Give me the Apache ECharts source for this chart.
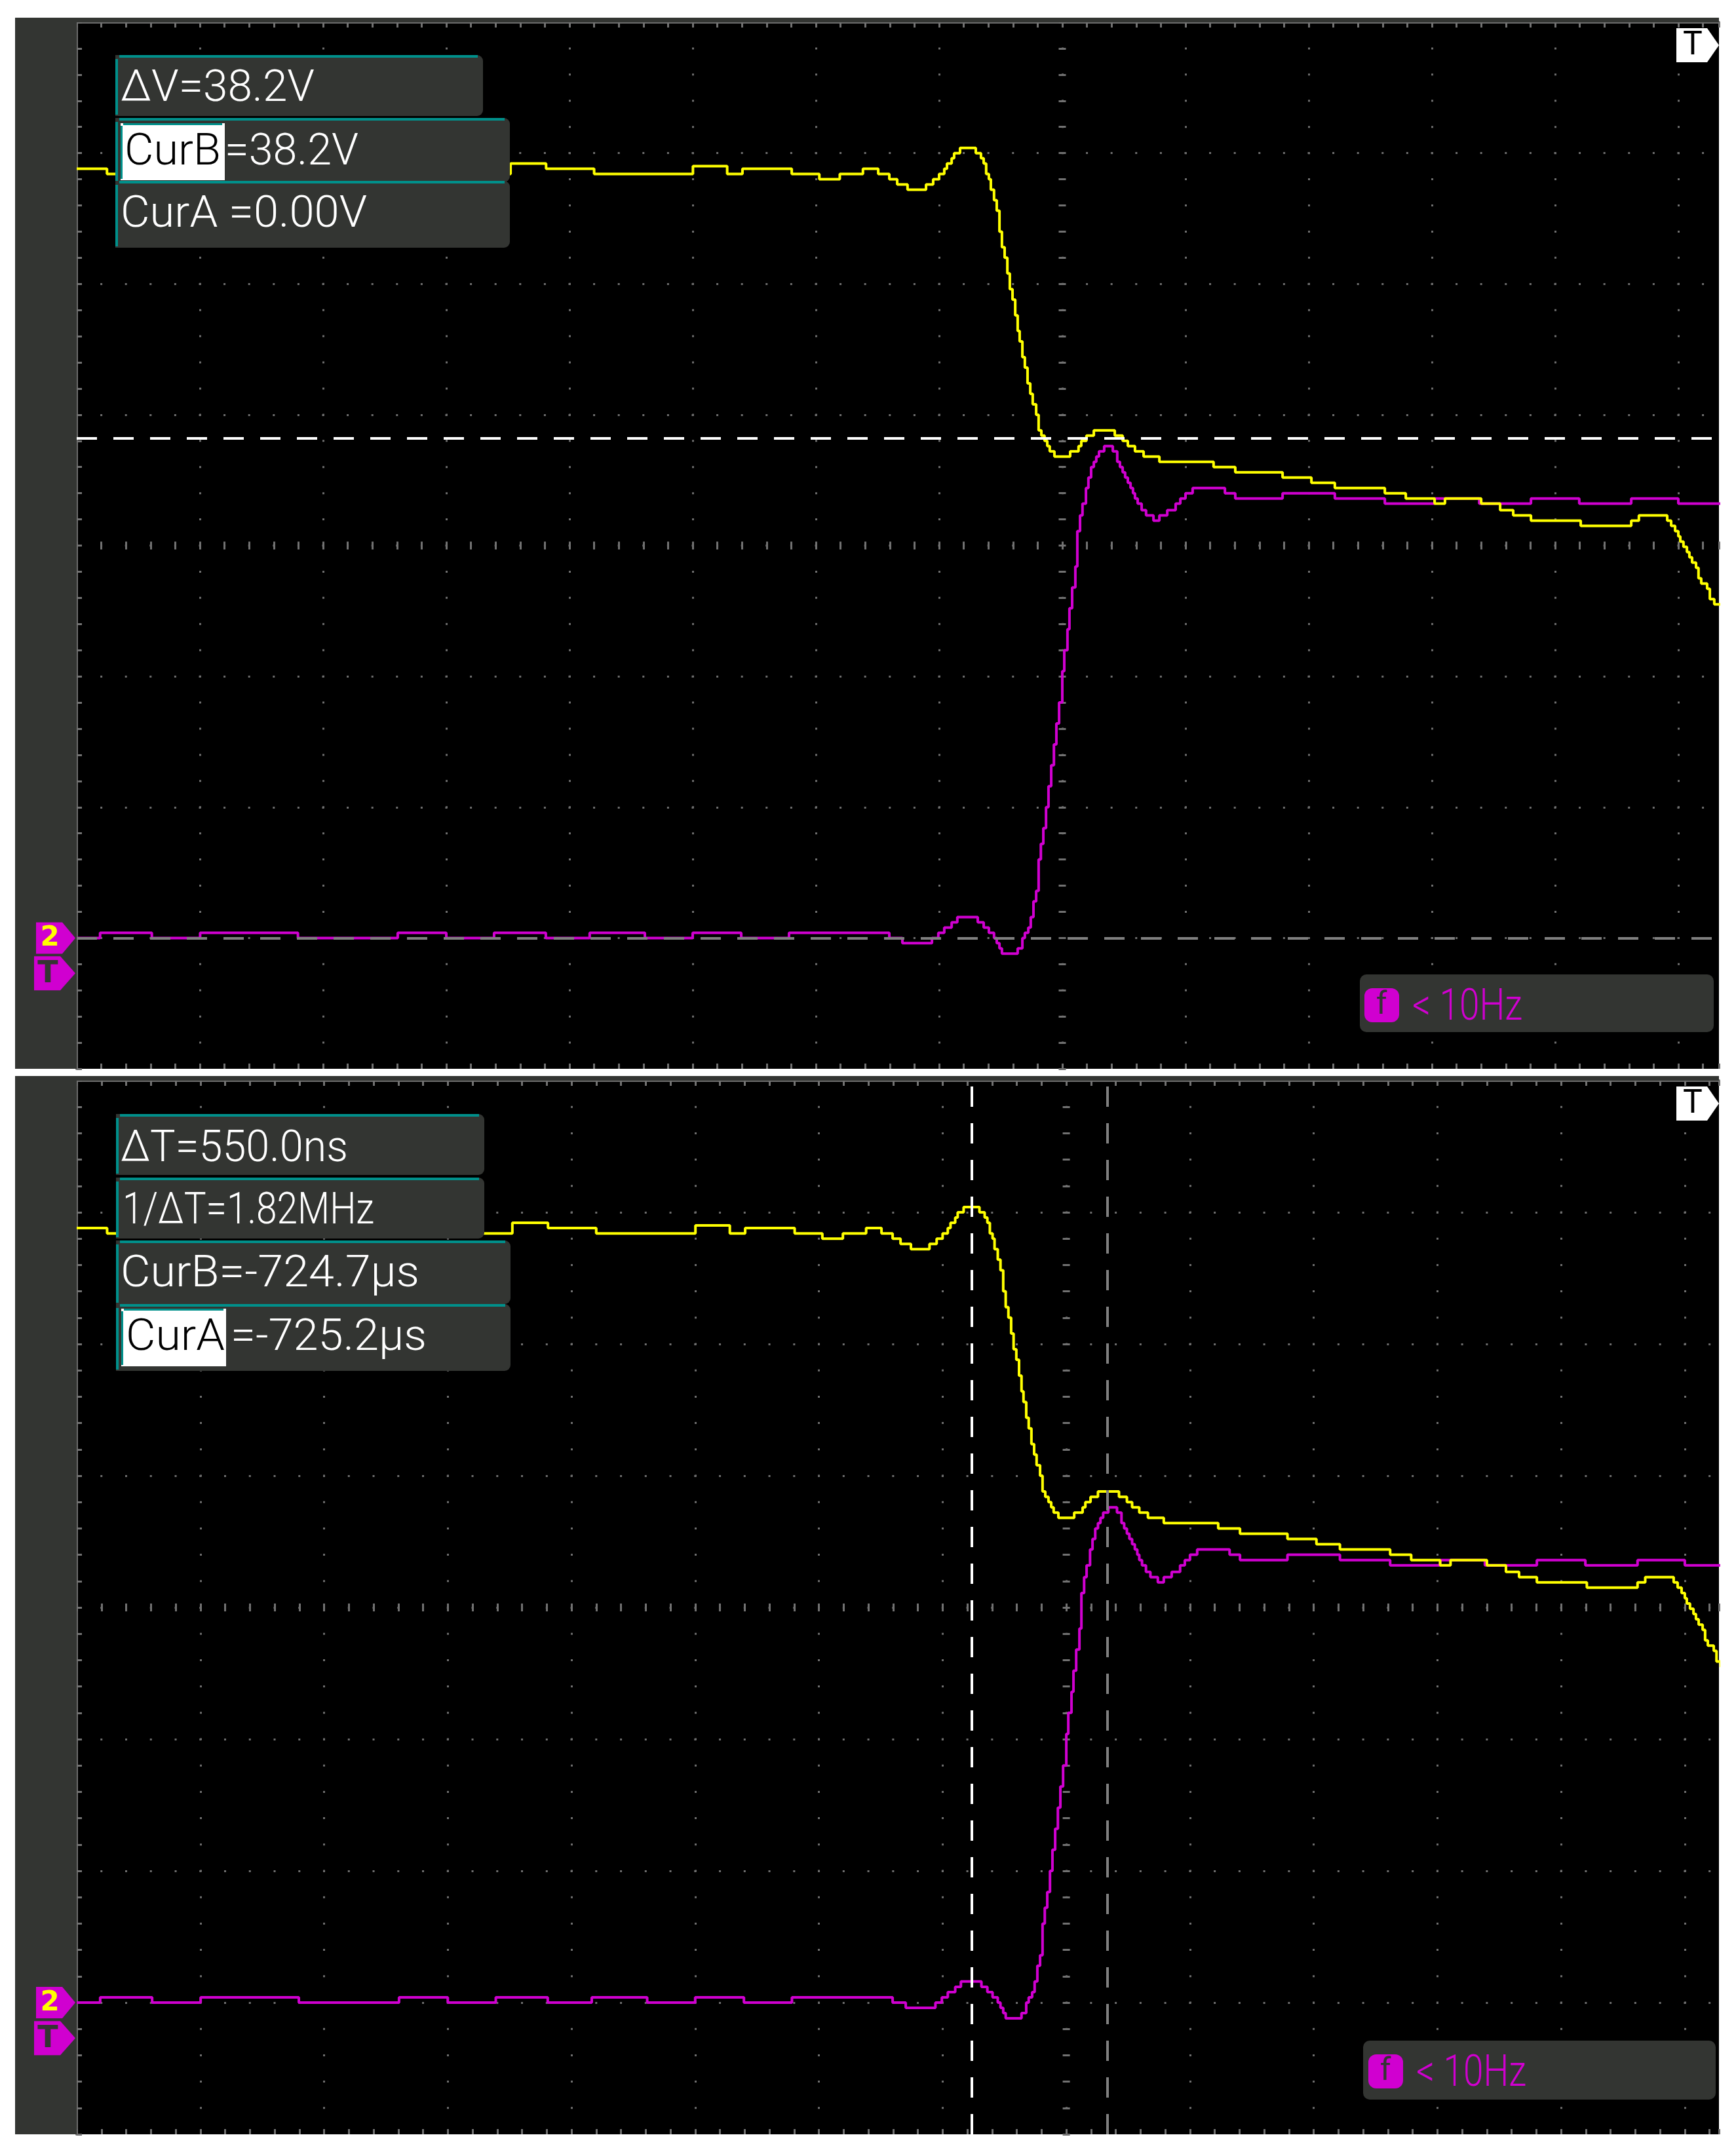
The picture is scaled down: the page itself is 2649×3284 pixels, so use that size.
<!DOCTYPE html>
<html>
<head>
<meta charset="utf-8">
<title>CH1 / CH2 cursor capture</title>
<script src="https://cdn.jsdelivr.net/npm/echarts@6.0.0/dist/echarts.min.js"></script>
<style>
  html, body { margin: 0; padding: 0; background: #fff; }
  #chart { width: 2649px; height: 3284px; }
</style>
</head>
<body>
<div id="chart"></div>
<script>
// time in ns from screen centre (500 ns/div), volts from CH2 ground (10 V/div)
const ch1Time = [-4000,-3877,-2239,-2095,-1900,-1499,-1360,-1298,-1098,-986,-903,-809,-747,-702,-670,-628,-553,-524,-500,-479,-468,-449,-439,-415,-351,-330,-319,-309,-298,-290,-277,-266,-255,-245,-234,-223,-213,-202,-191,-181,-173,-162,-152,-141,-130,-120,-106,-96,-85,-72,-61,-51,-32,32,66,77,98,128,213,245,266,295,330,394,614,702,894,1011,1106,1309,1394,1511,1553,1700,1777,1830,1902,2104,2309,2340,2455,2471,2487,2500,2508,2521,2535,2545,2556,2572,2582,2593,2617,2628,2646,2700];
const ch1Volt = [58.8,58.4,59.2,58.8,58.4,59.0,58.4,58.8,58.4,58.0,58.4,58.8,58.4,58.0,57.6,57.2,57.6,58.0,58.4,58.8,59.2,59.6,60.0,60.4,60.0,59.6,59.2,58.4,58.0,57.2,56.4,55.6,54.0,52.8,52.0,50.8,49.6,48.8,47.6,46.4,45.6,44.4,43.6,42.4,41.6,40.8,40.0,38.8,38.4,38.0,37.6,37.2,36.8,37.2,37.6,38.0,38.4,38.8,38.4,38.0,37.6,37.2,36.8,36.4,36.0,35.6,35.2,34.8,34.4,34.0,33.6,33.2,33.6,33.2,32.7,32.3,31.9,31.5,31.9,32.3,31.9,31.5,31.1,30.7,30.3,29.9,29.5,29.1,28.7,28.3,27.5,27.1,26.7,25.9,25.5,25.5];

const ch2Time = [-4000,-3905,-3695,-3499,-3102,-2697,-2500,-2306,-2096,-1918,-1694,-1500,-1303,-1109,-702,-649,-529,-503,-479,-449,-426,-343,-319,-298,-277,-266,-255,-245,-181,-162,-152,-138,-128,-117,-106,-96,-87,-77,-66,-56,-45,-34,-24,-13,0,8,21,29,40,53,61,72,82,96,106,117,128,138,149,170,205,223,234,245,255,266,277,287,295,306,322,340,370,394,426,460,479,500,529,660,702,894,1106,1309,1511,1692,1902,2098,2309,2500,2700];
const ch2Volt = [0,0.4,0,0.4,0,0.4,0,0.4,0,0.4,0,0.4,0,0.4,0,-0.4,0,0.4,0.8,1.2,1.6,1.2,0.8,0.4,0,-0.4,-0.8,-1.2,-0.8,0,0.4,0.8,1.6,2.8,3.6,6.0,7.2,8.4,10.0,11.6,13.2,14.8,16.4,18.0,20.4,22.0,23.6,25.2,26.8,28.4,31.1,32.3,33.2,34.4,35.2,36.0,36.4,36.8,37.2,37.6,37.2,36.4,36.0,35.6,35.2,34.8,34.4,34.0,33.6,33.2,32.7,32.3,31.9,32.3,32.7,33.2,33.6,34.0,34.4,34.0,33.6,34.0,33.6,33.2,33.6,33.2,33.6,33.2,33.6,33.2,33.2];

// cursors
const curVolts = [0, 38.2];        // CurA, CurB (top screen)
const curTimes = [-383, 167];      // CurA, CurB (bottom screen)
const trigLevel = -2.7;

const topTexts = ['\u0394V=38.2V', 'CurB', '=38.2V', 'CurA =0.00V'];
const bottomTexts = ['\u0394T=550.0ns', '1/\u0394T=1.82MHz', 'CurB=-724.7\u00b5s', 'CurA', '=-725.2\u00b5s'];
const freqText = '< 10Hz';

const tMin = -4000, tDiv = 500;
const vMin = -10, vMax = 70, vDiv = 10;

const YELLOW = '#ffff00';
const MAG = '#d000d0';
const FRAME = '#333532';
const TEAL = '#00908b';
const EDGE = '#6b6b6b';
const TICK = '#717171';
const DOT = '#6e6e6e';

const panels = [
  { left: 117, top: 34, width: 2506, height: 1597, tMax: 2665 },
  { left: 117, top: 1649, width: 2506, height: 1608, tMax: 2638 }
];

const chart = echarts.init(document.getElementById('chart'), null, { width: 2649, height: 3284 });

const xAxes = [], yAxes = [], series = [];
const tickStyle = { color: TICK, width: 3 };

panels.forEach(function (p, g) {
  const minorX = p.width / ((p.tMax - tMin) / (tDiv / 5));
  const minorY = p.height / ((vMax - vMin) / (vDiv / 5));
  const centerX = (0 - tMin) / (p.tMax - tMin) * p.width;
  const xb = { gridIndex: g, type: 'value', min: tMin, max: p.tMax, interval: tDiv, axisLabel: { show: false } };
  const yb = { gridIndex: g, type: 'value', min: vMin, max: vMax, interval: vDiv, axisLabel: { show: false } };

  // main x axis: bottom edge ticks + dotted vertical division lines
  xAxes.push(Object.assign({}, xb, {
    position: 'bottom',
    axisLine: { show: false, onZero: false },
    axisTick: { show: true, inside: true, length: 8, lineStyle: tickStyle },
    minorTick: { show: true, splitNumber: 5, length: 8, lineStyle: tickStyle },
    splitLine: { show: true, showMinLine: false, showMaxLine: false,
      lineStyle: { color: DOT, width: 3, type: [3, minorY - 3], dashOffset: 1.5 } }
  }));
  // top edge
  xAxes.push(Object.assign({}, xb, {
    position: 'top',
    axisLine: { show: true, onZero: false, lineStyle: { color: EDGE, width: 4 } },
    axisTick: { show: true, inside: true, length: 8, lineStyle: tickStyle },
    minorTick: { show: true, splitNumber: 5, length: 8, lineStyle: tickStyle },
    splitLine: { show: false }
  }));
  // centre horizontal graticule line
  xAxes.push(Object.assign({}, xb, {
    position: 'bottom',
    offset: -(p.height / 2 - 6),
    axisLine: { show: false, onZero: false },
    axisTick: { show: true, inside: true, length: 12, lineStyle: tickStyle },
    minorTick: { show: true, splitNumber: 5, length: 12, lineStyle: tickStyle },
    splitLine: { show: false }
  }));

  yAxes.push(Object.assign({}, yb, {
    position: 'left',
    axisLine: { show: true, onZero: false, lineStyle: { color: EDGE, width: 4 } },
    axisTick: { show: true, inside: true, length: 8, lineStyle: tickStyle },
    minorTick: { show: true, splitNumber: 5, length: 8, lineStyle: tickStyle },
    splitLine: { show: true, showMinLine: false, showMaxLine: false,
      lineStyle: { color: DOT, width: 3, type: [3, minorX - 3], dashOffset: 1.5 } }
  }));
  // centre vertical graticule line
  yAxes.push(Object.assign({}, yb, {
    position: 'left',
    offset: -(centerX - 5.5),
    axisLine: { show: false, onZero: false },
    axisTick: { show: true, inside: true, length: 11, lineStyle: { color: TICK, width: 3 } },
    minorTick: { show: true, splitNumber: 5, length: 11, lineStyle: { color: TICK, width: 3 } },
    splitLine: { show: false }
  }));

  const xi = 3 * g, yi = 2 * g;
  series.push({
    name: 'CH2', type: 'line', xAxisIndex: xi, yAxisIndex: yi, z: 3,
    data: ch2Time.map(function (t, i) { return [t, ch2Volt[i]]; }),
    step: 'end', symbol: 'none', showSymbol: false, silent: true,
    lineStyle: { color: MAG, width: 4 }
  });
  series.push({
    name: 'CH1', type: 'line', xAxisIndex: xi, yAxisIndex: yi, z: 4,
    data: ch1Time.map(function (t, i) { return [t, ch1Volt[i]]; }),
    step: 'end', symbol: 'none', showSymbol: false, silent: true,
    lineStyle: { color: YELLOW, width: 4 }
  });
  const curData = g === 0
    ? [{ yAxis: curVolts[1], lineStyle: { color: '#ffffff' } }, { yAxis: curVolts[0], lineStyle: { color: '#808080' } }]
    : [{ xAxis: curTimes[0], lineStyle: { color: '#ffffff' } }, { xAxis: curTimes[1], lineStyle: { color: '#808080' } }];
  series.push({
    name: 'cursors' + g, type: 'line', xAxisIndex: xi, yAxisIndex: yi, z: 5, data: [],
    markLine: {
      silent: true, symbol: ['none', 'none'], label: { show: false },
      lineStyle: { width: 4, type: [31, 25] },
      data: curData
    }
  });
});

chart.setOption({
  animation: false,
  backgroundColor: '#ffffff',
  grid: panels.map(function (p) {
    return { left: p.left, top: p.top, width: p.width, height: p.height, show: true,
      backgroundColor: '#000000', borderWidth: 0, outerBoundsMode: 'none' };
  }),
  xAxis: xAxes,
  yAxis: yAxes,
  series: series
});

// ---- readouts and markers ----
const measureCtx = document.createElement('canvas').getContext('2d');
function label(str, x, yMid, targetW, color, size) {
  const font = '300 ' + size + 'px Roboto';
  measureCtx.font = font;
  const w = measureCtx.measureText(str).width || targetW;
  return { type: 'text', x: x, y: yMid + 6, scaleX: targetW / w, z: 120, silent: true,
    style: { text: str, fill: color, font: font, textAlign: 'left', textVerticalAlign: 'middle' } };
}
function box(x, y, w, h) {
  return [
    { type: 'rect', z: 100, silent: true, shape: { x: x, y: y, width: w, height: h, r: [0, 9, 9, 0] }, style: { fill: FRAME } },
    { type: 'rect', z: 101, silent: true, shape: { x: x + 6, y: y, width: w - 14, height: 4 }, style: { fill: TEAL } },
    { type: 'rect', z: 101, silent: true, shape: { x: x, y: y + 6, width: 4, height: h - 8 }, style: { fill: TEAL } }
  ];
}
function highlight(x, y, w, h) {
  return [
    { type: 'rect', z: 110, silent: true, shape: { x: x, y: y, width: w, height: h }, style: { fill: '#ffffff' } },
    { type: 'rect', z: 111, silent: true, shape: { x: x + 4, y: y, width: w - 8, height: 3 }, style: { fill: TEAL } },
    { type: 'rect', z: 111, silent: true, shape: { x: x, y: y + 4, width: 3, height: h - 6 }, style: { fill: TEAL } }
  ];
}
function freqBox(x, y, w, h, iconX, iconY, textX, textY) {
  return [
    { type: 'rect', z: 100, silent: true, shape: { x: x, y: y, width: w, height: h, r: 10 }, style: { fill: FRAME } },
    { type: 'rect', z: 110, silent: true, shape: { x: iconX, y: iconY, width: 53, height: 52, r: 12 }, style: { fill: MAG } },
    { type: 'text', z: 120, silent: true, x: iconX + 26, y: iconY + 27,
      style: { text: 'f', fill: FRAME, font: '48px Roboto', textAlign: 'center', textVerticalAlign: 'middle' } },
    label(freqText, textX, textY, 168, MAG, 66)
  ];
}
function chMarker(tipY, ch) {
  return [
    { type: 'polygon', z: 100, silent: true, shape: { points: [[55, tipY - 24], [95, tipY - 24], [115, tipY], [95, tipY + 24], [55, tipY + 24]] }, style: { fill: MAG } },
    { type: 'text', z: 110, silent: true, x: 76, y: tipY + 1,
      style: { text: ch, fill: YELLOW, font: 'bold 42px "DejaVu Sans"', textAlign: 'center', textVerticalAlign: 'middle' } }
  ];
}
function trigMarker(tipY) {
  return [
    { type: 'polygon', z: 99, silent: true, shape: { points: [[52, tipY - 26], [92, tipY - 26], [115, tipY], [92, tipY + 26], [52, tipY + 26]] }, style: { fill: MAG } },
    { type: 'text', z: 110, silent: true, x: 73, y: tipY + 2,
      style: { text: 'T', fill: FRAME, font: 'bold 46px "DejaVu Sans"', textAlign: 'center', textVerticalAlign: 'middle' } }
  ];
}
function timeMarker(p) {
  const c = p.top + 35, r = p.left + p.width;
  return [
    { type: 'polygon', z: 100, silent: true, shape: { points: [[r - 65, c - 26], [r - 18, c - 26], [r, c], [r - 18, c + 26], [r - 65, c + 26]] }, style: { fill: '#ffffff' } },
    { type: 'text', z: 110, silent: true, x: r - 40, y: c + 1,
      style: { text: 'T', fill: '#000000', font: '50px Roboto', textAlign: 'center', textVerticalAlign: 'middle' } }
  ];
}

let els = [];
// dark bezel strips
panels.forEach(function (p) {
  els.push({ type: 'rect', silent: true, z: 1, shape: { x: 23, y: p.top - 7, width: p.left - 23, height: p.height + 7 }, style: { fill: FRAME } });
  els.push({ type: 'rect', silent: true, z: 1, shape: { x: 23, y: p.top - 7, width: p.left + p.width - 23, height: 7 }, style: { fill: FRAME } });
  els = els.concat(timeMarker(p));
});

panels.forEach(function (p, g) {
  const gnd = chart.convertToPixel({ yAxisIndex: 2 * g }, 0);
  const trg = chart.convertToPixel({ yAxisIndex: 2 * g }, trigLevel);
  els = els.concat(trigMarker(trg), chMarker(gnd, '2'));
});

// top screen: voltage cursors
els = els.concat(
  box(176, 84, 561, 93), box(176, 180, 602, 98), box(176, 276, 602, 102),
  highlight(184, 188, 159, 87),
  [label(topTexts[0], 184, 131, 296, '#ffffff', 66),
   label(topTexts[1], 190, 228, 147, '#000000', 66),
   label(topTexts[2], 343, 228, 204, '#ffffff', 66),
   label(topTexts[3], 184, 323, 376, '#ffffff', 66)],
  freqBox(2075, 1487, 540, 88, 2082, 1508, 2155, 1533)
);
// bottom screen: time cursors
els = els.concat(
  box(177, 1700, 562, 93), box(177, 1797, 562, 93), box(177, 1893, 602, 97), box(177, 1990, 602, 102),
  highlight(185, 1997, 160, 88),
  [label(bottomTexts[0], 184, 1749, 347, '#ffffff', 66),
   label(bottomTexts[1], 187, 1844, 384, '#ffffff', 66),
   label(bottomTexts[2], 184, 1940, 456, '#ffffff', 66),
   label(bottomTexts[3], 192, 2037, 151, '#000000', 66),
   label(bottomTexts[4], 352, 2037, 299, '#ffffff', 66)],
  freqBox(2080, 3114, 538, 90, 2088, 3135, 2161, 3160)
);

chart.setOption({ graphic: { elements: els } });
</script>
</body>
</html>
